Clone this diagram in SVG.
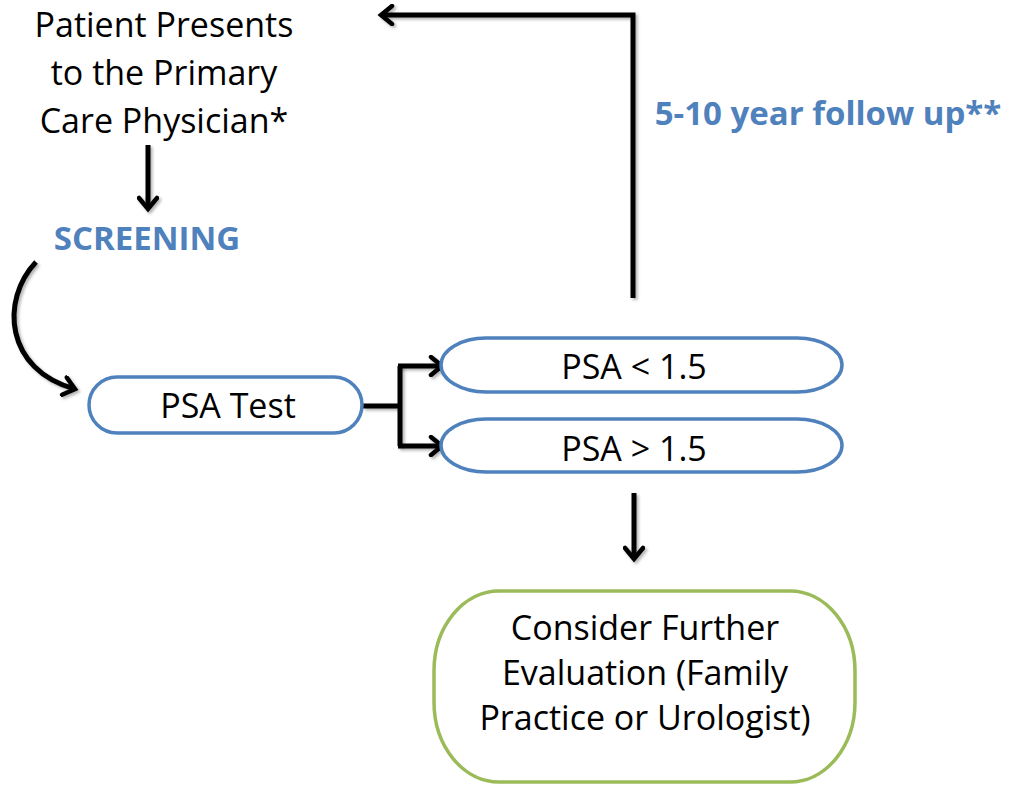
<svg xmlns="http://www.w3.org/2000/svg" width="1009" height="788" viewBox="0 0 1009 788">
<defs>
<marker id="chev" viewBox="0 0 22 22" refX="18" refY="11" markerWidth="22" markerHeight="22" markerUnits="userSpaceOnUse" orient="auto">
<polyline points="7,2 18,11 7,20" fill="none" stroke="#000" stroke-width="4.5" stroke-linecap="round" stroke-linejoin="miter"/>
</marker>
<filter id="sh" filterUnits="userSpaceOnUse" x="0" y="0" width="1009" height="788">
<feDropShadow dx="2" dy="2" stdDeviation="1.5" flood-color="#000" flood-opacity="0.3"/>
</filter>
</defs>
<style>
.t{font-family:"Open Sans","Liberation Sans",sans-serif;font-size:34px;fill:#000;text-anchor:middle}
.b{font-family:"Open Sans","Liberation Sans",sans-serif;font-size:33px;font-weight:bold;fill:#4F81BD;text-anchor:middle}
.blue{fill:#fff;stroke:#4F81BD;stroke-width:3.5}
.green{fill:#fff;stroke:#9BBB59;stroke-width:3.5}
.c{fill:none;stroke:#000;stroke-width:5;filter:url(#sh)}
</style>
<g id="connectors">
<path class="c" d="M148,145 V209" marker-end="url(#chev)"/>
<path class="c" d="M36,262 C0,300 5,370 75,389" marker-end="url(#chev)"/>
<path class="c" d="M363,406 H400 M400,366 V446"/>
<path class="c" d="M398,366 H442" marker-end="url(#chev)"/>
<path class="c" d="M398,446 H442" marker-end="url(#chev)"/>
<path class="c" d="M634,493 V559" marker-end="url(#chev)"/>
<path class="c" d="M633,298 V15 H381" marker-end="url(#chev)"/>
</g>
<g id="n-patient">
<text class="t" x="164" y="37">Patient Presents</text>
<text class="t" x="164" y="85">to the Primary</text>
<text class="t" x="164" y="133">Care Physician*</text>
</g>
<g id="n-screening">
<text class="b" x="147" y="250">SCREENING</text>
</g>
<g id="n-followup">
<text class="b" x="828" y="125">5-10 year follow up**</text>
</g>
<g id="n-psatest">
<rect class="blue" x="89" y="377" width="273" height="56" rx="28"/>
<text class="t" x="228" y="418">PSA Test</text>
</g>
<g id="n-psa-low">
<rect class="blue" x="441" y="338" width="401" height="54" rx="45" ry="27"/>
<text class="t" x="634" y="379">PSA &lt; 1.5</text>
</g>
<g id="n-psa-high">
<rect class="blue" x="441" y="419" width="401" height="53" rx="45" ry="26.5"/>
<text class="t" x="634" y="461">PSA &gt; 1.5</text>
</g>
<g id="n-evaluation">
<rect class="green" x="434" y="591" width="421" height="191" rx="65" ry="80"/>
<text class="t" x="645" y="640">Consider Further</text>
<text class="t" x="645" y="685">Evaluation (Family</text>
<text class="t" x="645" y="730">Practice or Urologist)</text>
</g>
</svg>
